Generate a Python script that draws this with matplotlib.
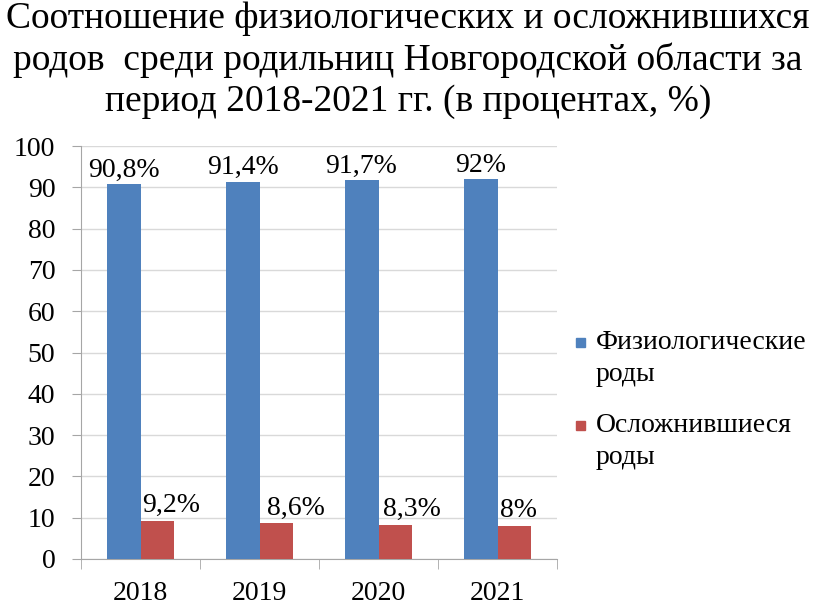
import numpy as np
from matplotlib import pyplot as plt
from matplotlib.patches import Rectangle

plt.rcParams['font.family'] = 'serif'
plt.rcParams['font.serif'] = ['Liberation Serif', 'Times New Roman', 'DejaVu Serif']
FONT = 'Liberation Serif'

# Data
years = ['2018', '2019', '2020', '2021']
physio = [90.8, 91.4, 91.7, 92.0]
complicated = [9.2, 8.6, 8.3, 8.0]
physio_labels = ['90,8%', '91,4%', '91,7%', '92%']
compl_labels = ['9,2%', '8,6%', '8,3%', '8%']

blue = '#4F81BD'
red = '#C0504D'
grid_col = '#A6A6A6'

fig = plt.figure(figsize=(8.16, 6.13), dpi=100)
ax = fig.add_axes([0.0993, 0.0881, 0.5833, 0.6737])

x = np.arange(len(years))
w = 0.285
ax.bar(x - w / 2, physio, w, color=blue, zorder=3)
ax.bar(x + w / 2, complicated, w, color=red, zorder=3)

# value labels
for i in range(len(years)):
    ax.annotate(physio_labels[i], (x[i] - w / 2, physio[i]), xytext=(0, 1),
                textcoords='offset points', ha='center', va='bottom',
                fontsize=20, family=FONT)
# red labels sit a bit to the right of their bars
compl_dx = [10, 14, 12, 3]
for i in range(len(years)):
    ax.annotate(compl_labels[i], (x[i] + w / 2, complicated[i]), xytext=(compl_dx[i], 2),
                textcoords='offset points', ha='center', va='bottom',
                fontsize=20, family=FONT)

ax.set_xlim(-0.5, len(years) - 0.5)
ax.set_ylim(0, 100)
yt = list(range(0, 101, 10))
ax.set_yticks(yt)
ax.set_yticklabels([str(v) for v in yt], fontsize=20, family=FONT)
ax.set_xticks(x)
ax.set_xticklabels(years, fontsize=20, family=FONT)
ax.set_xticks(np.arange(-0.5, len(years)), minor=True)
ax.tick_params(axis='x', which='major', length=0, pad=16)
ax.tick_params(axis='x', which='minor', length=7, color=grid_col, direction='out')
ax.tick_params(axis='y', length=6.5, color=grid_col, pad=12)
ax.yaxis.grid(True, color='#D9D9D9', linewidth=1, zorder=0)
for s in ['top', 'right']:
    ax.spines[s].set_visible(False)
for s in ['left', 'bottom']:
    ax.spines[s].set_color(grid_col)

fig.text(0.5, 0.998,
         'Соотношение физиологических и осложнившихся\n'
         'родов  среди родильниц Новгородской области за\n'
         'период 2018-2021 гг. (в процентах, %)',
         ha='center', va='top', fontsize=27, linespacing=1.24, family=FONT)

# legend
legend_items = [('Физиологические\nроды', blue, 342), ('Осложнившиеся\nроды', red, 425)]
for text, col, ypix in legend_items:
    fig.patches.append(Rectangle((576 / 816, (613 - ypix - 5) / 613), 9 / 816, 9 / 613,
                                 transform=fig.transFigure, color=col))
    fig.text(596 / 816, (613 - ypix + 12) / 613, text, fontsize=20, va='top',
             linespacing=1.35, family=FONT, transform=fig.transFigure)

fig.savefig('out.png', dpi=100)
